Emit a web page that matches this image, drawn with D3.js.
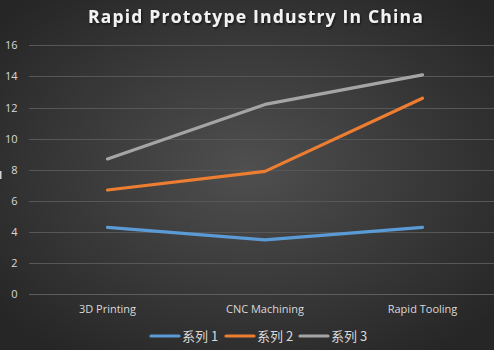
<!DOCTYPE html>
<html lang="en">
<head>
    <meta charset="UTF-8"/>
    <title>Rapid Prototype Industry In China</title>
    <script src="https://d3js.org/d3.v7.min.js"></script>
    <style>
        body { margin: 0; background: #333; }
        svg { display: block; }
    </style>
</head>
<body>
<div id="chart"></div>
<script>
    let width = 494;
    let height = 350;

    // data
    var categories = ["3D Printing", "CNC Machining", "Rapid Tooling"];
    var seriesNames = ["系列 1", "系列 2", "系列 3"];
    var series1 = [4.3, 3.5, 4.3];
    var series2 = [6.7, 7.9, 12.6];
    var series3 = [8.7, 12.2, 14.1];
    var yTicks = [0, 2, 4, 6, 8, 10, 12, 14, 16];

    var colors = ["#5b9bd5", "#ed7d31", "#a5a5a5"];
    var allSeries = [series1, series2, series3];

    var svg = d3.select("#chart").append("svg")
        .attr("width", width).attr("height", height);

    // background gradient
    var defs = svg.append("defs");
    var grad = defs.append("radialGradient").attr("id", "bg")
        .attr("cx", "50%").attr("cy", "48%").attr("r", "65%");
    grad.append("stop").attr("offset", "0%").attr("stop-color", "#4f4f4f");
    grad.append("stop").attr("offset", "100%").attr("stop-color", "#262626");
    var shadow = defs.append("filter").attr("id", "shadow");
    shadow.append("feDropShadow").attr("dx", 1).attr("dy", 1.5)
        .attr("stdDeviation", 1).attr("flood-color", "#000").attr("flood-opacity", 0.6);

    svg.append("rect").attr("width", width).attr("height", height).attr("fill", "url(#bg)");

    // scales
    var xScale = d3.scalePoint().domain(categories).range([107.5, 422.5]);
    var yScale = d3.scaleLinear().domain([0, 16]).range([294.3, 45.3]);

    // gridlines
    svg.append("g").selectAll("line").data(yTicks).enter().append("line")
        .attr("x1", 29).attr("x2", width)
        .attr("y1", d => Math.round(yScale(d)) + 0.5)
        .attr("y2", d => Math.round(yScale(d)) + 0.5)
        .attr("stroke", d => d === 0 ? "#5e5e5e" : "#575757")
        .attr("stroke-width", 1);

    // y labels
    svg.append("g").selectAll("text").data(yTicks).enter().append("text")
        .attr("x", 17.5)
        .attr("y", d => yScale(d) + 4)
        .attr("text-anchor", "end")
        .attr("font-family", "Open Sans, sans-serif")
        .attr("font-size", 11)
        .attr("fill", "#d9d9d9")
        .text(d => d);

    // x labels
    svg.append("g").selectAll("text").data(categories).enter().append("text")
        .attr("x", d => xScale(d))
        .attr("y", 313)
        .attr("text-anchor", "middle")
        .attr("font-family", "Open Sans, sans-serif")
        .attr("font-size", 11)
        .attr("fill", "#d9d9d9")
        .text(d => d);

    // clipped axis title edge on the left
    svg.append("rect").attr("x", 0).attr("y", 171).attr("width", 1.5).attr("height", 8)
        .attr("fill", "#d0d0d0");

    // lines
    var line = d3.line()
        .x((d, i) => xScale(categories[i]))
        .y(d => yScale(d));

    svg.append("g").selectAll("path").data(allSeries).enter().append("path")
        .attr("d", d => line(d))
        .attr("fill", "none")
        .attr("stroke", (d, i) => colors[i])
        .attr("stroke-width", 3.2)
        .attr("stroke-linecap", "round")
        .attr("stroke-linejoin", "round");

    // title
    svg.append("text")
        .attr("x", 256).attr("y", 23)
        .attr("text-anchor", "middle")
        .attr("font-family", "Open Sans, sans-serif")
        .attr("font-weight", "bold")
        .attr("font-size", 17.5)
        .attr("letter-spacing", 1.2)
        .attr("fill", "#f2f2f2")
        .attr("filter", "url(#shadow)")
        .text("Rapid Prototype Industry In China");

    // legend
    var legendX = [151, 226, 300];
    var legend = svg.append("g").selectAll("g").data(seriesNames).enter().append("g")
        .attr("transform", (d, i) => "translate(" + legendX[i] + ",336)");
    legend.append("line")
        .attr("x1", 0).attr("x2", 28).attr("y1", 0).attr("y2", 0)
        .attr("stroke", (d, i) => colors[i])
        .attr("stroke-width", 3.2)
        .attr("stroke-linecap", "round");
    legend.append("text")
        .attr("x", 31).attr("y", 5)
        .attr("font-family", "Noto Sans CJK SC, sans-serif")
        .attr("font-size", 13)
        .attr("fill", "#d9d9d9")
        .text(d => d);
</script>
</body>
</html>
